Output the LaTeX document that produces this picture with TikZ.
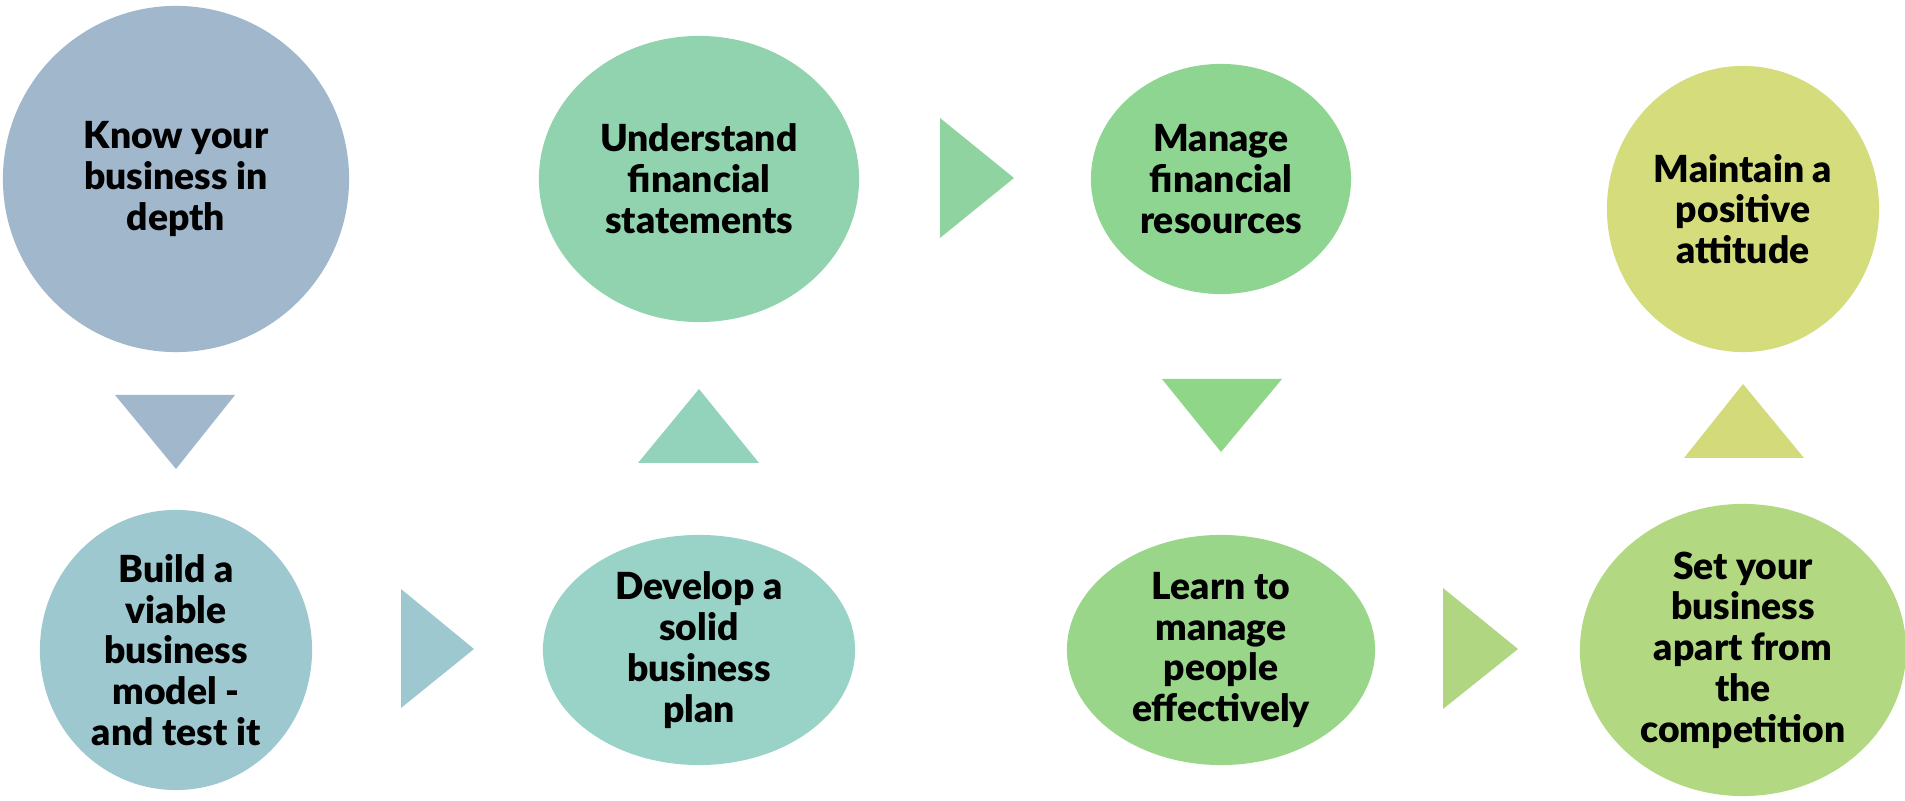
\documentclass[tikz,border=0pt]{standalone}
\usepackage{fontspec}
\setmainfont{Lato}[BoldFont={Lato Black}]
\usepackage{tikz}
\usetikzlibrary{shapes.geometric}

\definecolor{stepA}{HTML}{A0B7CC}
\definecolor{stepB}{HTML}{9DC8CF}
\definecolor{stepC}{HTML}{99D2C6}
\definecolor{stepD}{HTML}{91D3AF}
\definecolor{stepE}{HTML}{8ED592}
\definecolor{stepF}{HTML}{99D689}
\definecolor{stepG}{HTML}{B2D882}
\definecolor{stepH}{HTML}{D4DC7C}
\definecolor{arrC}{HTML}{93D2BB}
\definecolor{arrD}{HTML}{8FD4A0}
\definecolor{arrE}{HTML}{8FD689}
\definecolor{arrF}{HTML}{B0D682}
\definecolor{arrH}{HTML}{D2DA7A}

\begin{document}
\begin{tikzpicture}[x=0.01cm,y=-0.01cm,
	stage/.style={ellipse,inner sep=0pt,align=center,text=black,
		font=\fontsize{10.6}{11.6}\selectfont\bfseries}]
			\useasboundingbox (0,0) rectangle (1905,801);
			\node[stage,fill=stepA,minimum width=3.46cm,minimum height=3.46cm] (nodeKnow) at (176,179) {Know your\\business in\\depth};
			\node[stage,fill=stepB,minimum width=2.72cm,minimum height=2.80cm] (nodeBuild) at (176,650) {Build a\\viable\\business\\model -\\and test it};
			\node[stage,fill=stepC,minimum width=3.12cm,minimum height=2.30cm] (nodePlan) at (699,650) {Develop a\\solid\\business\\plan};
			\node[stage,fill=stepD,minimum width=3.20cm,minimum height=2.86cm] (nodeFin) at (699,179) {Understand\\financial\\statements};
			\node[stage,fill=stepE,minimum width=2.60cm,minimum height=2.30cm] (nodeRes) at (1221,179) {Manage\\financial\\resources};
			\node[stage,fill=stepF,minimum width=3.08cm,minimum height=2.30cm] (nodePeople) at (1221,650) {Learn to\\manage\\people\\effectively};
			\node[stage,fill=stepG,minimum width=3.26cm,minimum height=2.92cm] (nodeApart) at (1743,650) {Set your\\business\\apart from\\the\\competition};
			\node[stage,fill=stepH,minimum width=2.72cm,minimum height=2.86cm] (nodeAtt) at (1743,209) {Maintain a\\positive\\attitude};
			% arrows between the steps
			\fill[stepA] (115,395) -- (235,395) -- (176,469) -- cycle;
			\fill[stepB] (401,589) -- (474,649) -- (401,708) -- cycle;
			\fill[arrC] (638,463) -- (699,389) -- (759,463) -- cycle;
			\fill[arrD] (940,118) -- (1014,178) -- (940,238) -- cycle;
			\fill[arrE] (1162,379) -- (1282,379) -- (1221,452) -- cycle;
			\fill[arrF] (1443,588) -- (1518,649) -- (1443,709) -- cycle;
			\fill[arrH] (1684,458) -- (1743,384) -- (1804,458) -- cycle;
		\end{tikzpicture}
\end{document}
